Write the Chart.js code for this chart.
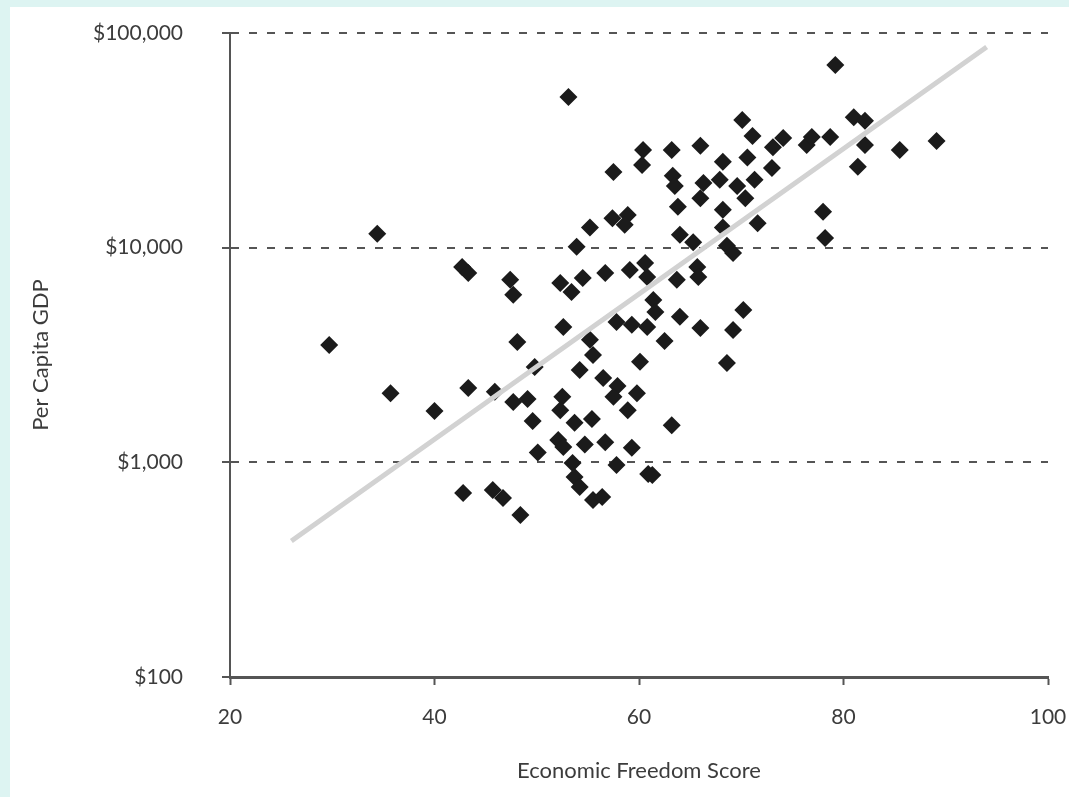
<!DOCTYPE html>
<html>
<head>
<meta charset="utf-8">
<script src="https://cdn.jsdelivr.net/npm/chart.js@4.4.1/dist/chart.umd.min.js"></script>
<style>
  html, body { margin: 0; padding: 0; }
  body { background: #ddf4f2; width: 1069px; height: 797px; overflow: hidden; position: relative; }
  #panel { position: absolute; left: 10px; top: 7px; width: 1059px; height: 790px; background: #fff; }
  #chart { display: block; }
</style>
</head>
<body>
<div id="panel"><canvas id="chart" width="1059" height="790"></canvas></div>
<script>
// economic freedom score of each country
const freedomScore = [
  29.7, 34.4, 35.7, 40.0, 42.7, 43.3, 43.3, 42.8, 45.7, 46.7,
  48.4, 45.9, 47.4, 47.7, 48.1, 47.7, 49.1, 49.6, 50.1, 49.8,
  53.1, 53.9, 52.3, 53.4, 54.5, 52.6, 55.2, 55.5, 54.2, 52.5,
  52.3, 53.7, 55.4, 52.1, 52.6, 54.7, 53.5, 53.7, 54.2, 55.5,
  56.4, 57.5, 60.4, 60.3, 57.4, 58.9, 58.6, 56.7, 59.1, 60.8,
  60.6, 57.8, 59.3, 61.4, 61.6, 60.8, 56.5, 57.9, 57.5, 59.8,
  58.9, 60.1, 56.7, 59.3, 57.8, 60.9, 63.2, 66.0, 63.3, 63.5,
  66.3, 63.8, 66.0, 64.0, 65.3, 63.7, 65.7, 65.8, 64.0, 66.0,
  62.5, 63.2, 61.3, 70.1, 71.1, 74.1, 73.1, 70.6, 68.2, 73.0,
  67.9, 69.6, 71.3, 70.4, 68.2, 71.6, 68.2, 68.6, 69.2, 70.2,
  69.2, 68.6, 76.4, 76.9, 78.7, 79.2, 81.0, 82.1, 82.1, 81.4,
  85.5, 89.1, 78.0, 78.2, 55.2
];

// per capita GDP in dollars, same order
const perCapitaGdp = [
  3520, 11600, 2100, 1735, 8130, 7620, 2220, 720, 743, 682,
  569, 2130, 7080, 6030, 3640, 1910, 1970, 1560, 1110, 2780,
  50300, 10100, 6850, 6220, 7230, 4270, 3720, 3160, 2690, 2020,
  1750, 1530, 1590, 1270, 1180, 1210, 994, 855, 768, 668,
  690, 22500, 28500, 24300, 13700, 14200, 12800, 7620, 7870, 7310,
  8490, 4510, 4370, 5710, 5020, 4270, 2470, 2270, 2020, 2100,
  1750, 2940, 1240, 1170, 972, 883, 28500, 29800, 21600, 19400,
  20000, 15500, 17000, 11500, 10600, 7080, 8130, 7310, 4760, 4230,
  3670, 1490, 873, 39300, 33100, 32400, 29400, 26300, 25100, 23500,
  20700, 19400, 20700, 17000, 15000, 13000, 12400, 10200, 9440, 5120,
  4140, 2900, 30100, 32800, 32800, 71000, 40500, 39000, 30100, 23800,
  28500, 31400, 14700, 11100, 12400
];

// fitted trend line end points
const trendScore = [26, 94];
const trendGdp = [430, 86000];

const xTicks = [20, 40, 60, 80, 100];
const yTicks = [100, 1000, 10000, 100000];

const axisColor = "#555";
const textColor = "#3c3c3c";
const fontName = "Lato, 'Open Sans', sans-serif";

const points = freedomScore.map((s, i) => ({ x: s, y: perCapitaGdp[i] }));
const trend = trendScore.map((s, i) => ({ x: s, y: trendGdp[i] }));

const ctx = document.getElementById("chart").getContext("2d");
new Chart(ctx, {
  type: "scatter",
  data: {
    datasets: [
      {
        label: "Trend",
        data: trend,
        showLine: true,
        borderColor: "#d2d2d2",
        borderWidth: 5,
        pointRadius: 0,
        order: 0,
      },
      {
        label: "Countries",
        data: points,
        pointStyle: "rectRot",
        pointRadius: 9,
        backgroundColor: "#1b1b1b",
        borderColor: "#1b1b1b",
        borderWidth: 0,
        order: 1,
      },
    ],
  },
  options: {
    responsive: false,
    animation: false,
    layout: { padding: { top: 26, right: 21, bottom: 0, left: 0 } },
    plugins: {
      legend: { display: false },
      tooltip: { enabled: false },
    },
    scales: {
      x: {
        type: "linear",
        min: 20,
        max: 100,
        afterBuildTicks: (scale) => {
          scale.ticks = xTicks.map((v) => ({ value: v }));
        },
        afterFit: (scale) => {
          scale.height = 120;
          scale.paddingLeft = 0; // keep the plot edges fixed
          scale.paddingRight = 0;
        },
        grid: {
          drawOnChartArea: false,
          drawTicks: true,
          tickLength: 8,
          color: axisColor,
          tickColor: axisColor,
          tickWidth: 2,
        },
        border: { display: true, color: axisColor, width: 3 },
        ticks: {
          color: textColor,
          padding: 20,
          maxRotation: 0,
          font: { family: fontName, size: 21 },
        },
        title: {
          display: true,
          text: "Economic Freedom Score",
          color: textColor,
          font: { family: fontName, size: 22 },
          padding: { top: 0, bottom: 13 },
        },
      },
      y: {
        type: "logarithmic",
        min: 100,
        max: 100000,
        afterBuildTicks: (scale) => {
          scale.ticks = yTicks.map((v) => ({ value: v }));
        },
        afterFit: (scale) => {
          scale.width = 220;
          scale.paddingTop = 0;
          scale.paddingBottom = 0;
        },
        grid: {
          drawTicks: true,
          tickLength: 8,
          lineWidth: 2,
          color: (c) => (c.tick && c.tick.value === 100 ? "rgba(0,0,0,0)" : axisColor),
          tickColor: axisColor,
          tickWidth: 2,
          tickBorderDash: [],
        },
        border: { display: true, color: axisColor, width: 2, dash: [8, 10] },
        ticks: {
          color: textColor,
          padding: 39,
          font: { family: fontName, size: 21 },
          callback: (v) => "$" + Number(v).toLocaleString("en-US"),
        },
        title: {
          display: true,
          text: "Per Capita GDP",
          color: textColor,
          font: { family: fontName, size: 22 },
          padding: { top: 18, bottom: 0 },
        },
      },
    },
  },
});
</script>
</body>
</html>
